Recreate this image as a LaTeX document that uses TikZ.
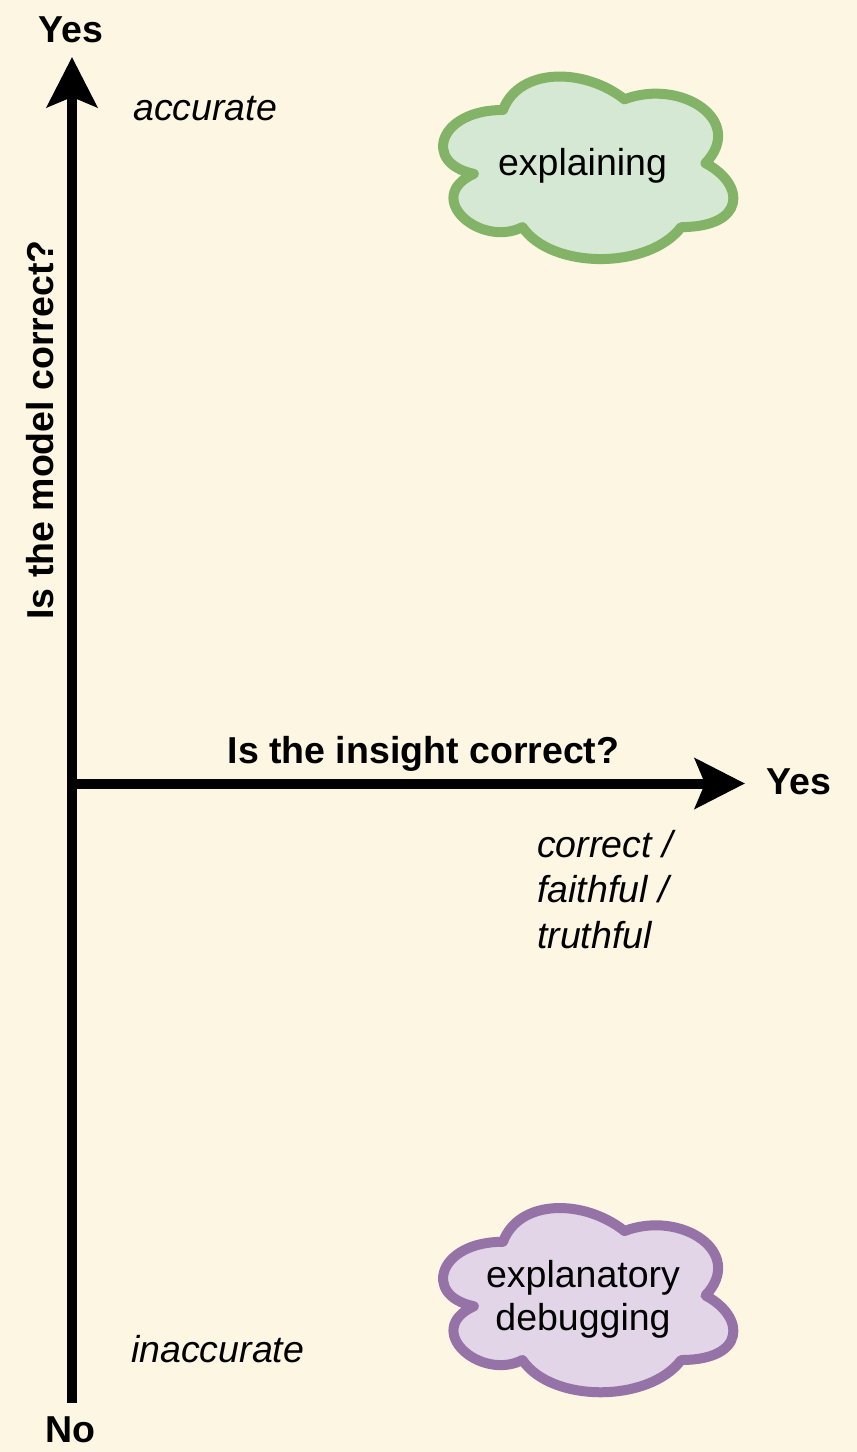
\documentclass[tikz,border=0pt]{standalone}
\usepackage{fontspec}
\setmainfont{Liberation Sans}
\usetikzlibrary{arrows.meta}
\definecolor{bg}{HTML}{FDF6E3}
\definecolor{gfill}{HTML}{D5E8D4}
\definecolor{gdraw}{HTML}{82B366}
\definecolor{pfill}{HTML}{E1D5E7}
\definecolor{pdraw}{HTML}{9673A6}
\newcommand\mxcloud[5]{%
  \path[#5, shift={(#1,#2)}, xscale=#3, yscale=#4]
    (0.25,0.25) .. controls (0.05,0.25) and (0,0.5) .. (0.16,0.55)
    .. controls (0,0.66) and (0.18,0.9) .. (0.31,0.8)
    .. controls (0.4,1) and (0.7,1) .. (0.8,0.8)
    .. controls (1,0.8) and (1,0.6) .. (0.875,0.5)
    .. controls (1,0.3) and (0.8,0.1) .. (0.625,0.2)
    .. controls (0.5,0.05) and (0.3,0.05) .. (0.25,0.25) -- cycle;}
\tikzset{
  axis/.style={line width=10pt, -{Stealth[length=50pt,width=50pt,inset=10pt]}},
  lbl/.style={inner sep=0pt, font=\fontsize{37.5}{45.5}\selectfont},
  boldlbl/.style={lbl, font=\fontsize{37.5}{45.5}\selectfont\bfseries},
  itlbl/.style={lbl, font=\fontsize{37.5}{45.5}\selectfont\itshape},
  greencloud/.style={fill=gfill, draw=gdraw, line width=10pt, line join=round},
  purplecloud/.style={fill=pfill, draw=pdraw, line width=10pt, line join=round},
}
\begin{document}
\begin{tikzpicture}[x=1pt,y=-1pt]
\fill[bg] (0,0) rectangle (857,1452);
\useasboundingbox (0,0) rectangle (857,1452);
% clouds
\mxcloud{422}{56.7}{324}{213}{greencloud}
\node[lbl, anchor=base] (explaining) at (582.5,175) {explaining};
\mxcloud{422}{1188}{324}{215}{purplecloud}
\node[lbl, align=center, font=\fontsize{37.5}{43}\selectfont] (debugging) at (583,1299.5) {explanatory\\debugging};
% axes
\coordinate (ybot) at (72,1403);
\coordinate (ytop) at (72,57);
\coordinate (origin) at (72,783.5);
\coordinate (xend) at (745,783.5);
\draw[axis] (ybot) -- (ytop);
\draw[axis] (origin) -- (xend);
% labels
\node[boldlbl, anchor=base] (yyes) at (71,42) {Yes};
\node[boldlbl, anchor=base] (yno) at (70,1442) {No};
\node[boldlbl, anchor=base] (xyes) at (799,794) {Yes};
\node[boldlbl, anchor=base] (xtitle) at (423.5,763) {Is the insight correct?};
\node[boldlbl, anchor=base, rotate=90] (ytitle) at (53,430) {Is the model correct?};
\node[itlbl, anchor=base west] (accurate) at (133,120) {accurate};
\node[itlbl, anchor=base west] (inaccurate) at (131,1362) {inaccurate};
\node[itlbl, anchor=north west, align=left] (correct) at (537,830) {correct /\\faithful /\\truthful};
\end{tikzpicture}
\end{document}
